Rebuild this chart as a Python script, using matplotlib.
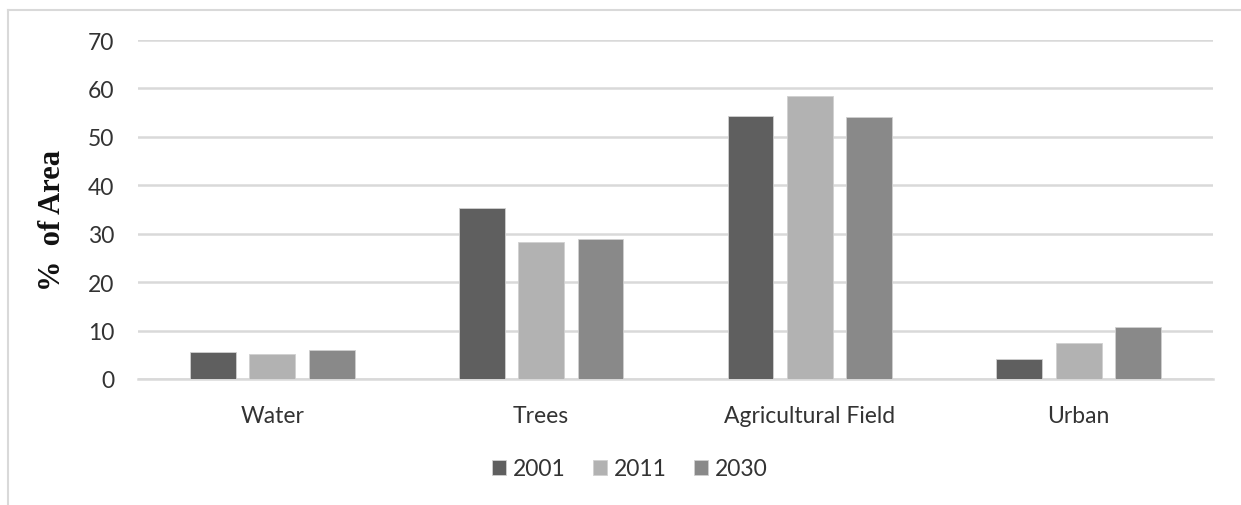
import matplotlib.pyplot as plt
import numpy as np
from matplotlib.lines import Line2D

categories = ['Water', 'Trees', 'Agricultural Field', 'Urban']
years = ['2001', '2011', '2030']
v2001 = [5.5, 35.4, 54.4, 4.1]
v2011 = [5.2, 28.2, 58.4, 7.5]
v2030 = [6.0, 29.0, 54.2, 10.7]
colors = ['#5f5f5f', '#b2b2b2', '#898989']

plt.rcParams['font.family'] = ['Lato', 'DejaVu Sans']

fig = plt.figure(figsize=(12.41, 5.06), dpi=100)
ax = fig.add_axes([138/1241, 1-380/506, (1213-138)/1241, (380-41)/506])

x = np.arange(len(categories))
w = 0.171
step = 0.221
for i, (vals, yr) in enumerate(zip([v2001, v2011, v2030], years)):
    ax.bar(x + (i-1)*step, vals, width=w, color=colors[i], label=yr,
           edgecolor='#d0d0d0', linewidth=0.6, zorder=3)

ax.set_xlim(-0.5, 3.5)
ax.set_ylim(0, 70)
ax.set_yticks(range(0, 71, 10))
ax.set_xticks(x)
ax.set_xticklabels(categories)
ax.yaxis.grid(True, color='#d9d9d9', linewidth=1.8, zorder=0)
ax.set_axisbelow(True)
for s in ['top', 'right', 'left']:
    ax.spines[s].set_visible(False)
ax.spines['bottom'].set_color('#d9d9d9')
ax.spines['bottom'].set_linewidth(1.8)
ax.tick_params(length=0, labelsize=16.5, colors='#333333', pad=17)
ax.tick_params(axis='x', pad=19)

fig.text(52/1241, 1-220/506, '%  of Area', rotation=90, ha='center', va='center',
         family='Liberation Serif', fontweight='bold', fontsize=22, color='#111111')

fig.legend(loc='center', bbox_to_anchor=(630/1241, 1-470/506), ncol=3, frameon=False,
           fontsize=16.5, handlelength=0.6, handleheight=0.6, handletextpad=0.3,
           columnspacing=1.2, labelcolor='#333333')

# outer chart frame
fig.add_artist(Line2D([8/1241, 8/1241], [0, 1-11/506], color='#d9d9d9', linewidth=1.5))
fig.add_artist(Line2D([8/1241, 1], [1-11/506, 1-11/506], color='#d9d9d9', linewidth=1.5))

fig.savefig('out.png', dpi=100)
